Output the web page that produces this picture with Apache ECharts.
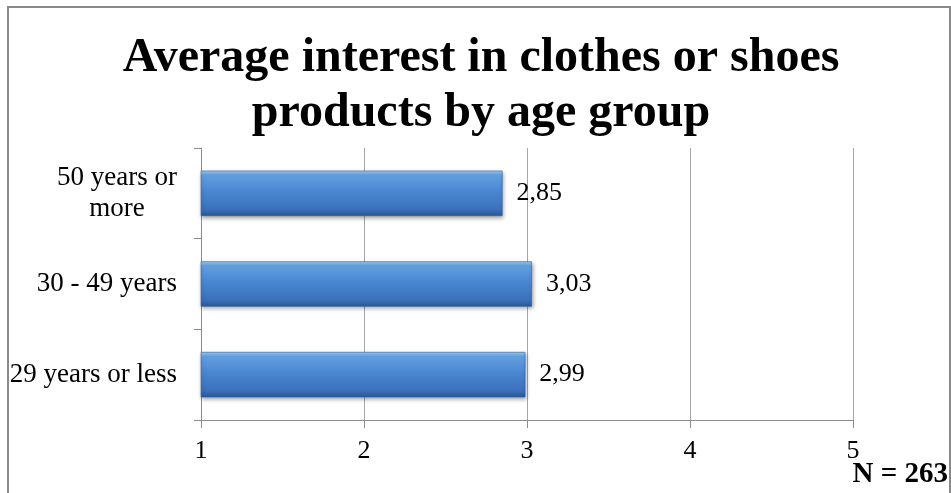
<!DOCTYPE html>
<html>
<head>
<meta charset="utf-8">
<title>Average interest in clothes or shoes products by age group</title>
<script src="https://cdn.jsdelivr.net/npm/echarts@6/dist/echarts.min.js"></script>
<style>
  html, body { margin: 0; padding: 0; background: #ffffff; }
  #chart { width: 951px; height: 493px; }
</style>
</head>
<body>
<div id="chart"></div>
<script>
// Age groups, bottom to top
const categories = ['29 years or less', '30 - 49 years', '50 years or more'];
// Mean interest score per age group
const values = [2.99, 3.03, 2.85];
// Scale ticks
const axisMin = 1;
const axisMax = 5;
const axisStep = 1;
const sampleNote = 'N = 263';

const serif = '"Liberation Serif", "Times New Roman", serif';

const chart = echarts.init(document.getElementById('chart'));

const barFill = new echarts.graphic.LinearGradient(0, 0, 0, 1, [
  { offset: 0, color: '#9ccdf3' },
  { offset: 0.1, color: '#62a0e2' },
  { offset: 0.45, color: '#4a87d2' },
  { offset: 0.85, color: '#3b71bb' },
  { offset: 1, color: '#2a5793' }
]);

chart.setOption({
  animation: false,
  backgroundColor: '#ffffff',
  title: {
    text: 'Average interest in clothes or shoes\nproducts by age group',
    left: 481,
    textAlign: 'center',
    top: 31,
    padding: 0,
    textStyle: {
      fontFamily: serif,
      fontWeight: 'bold',
      fontSize: 48,
      lineHeight: 55,
      color: '#000'
    }
  },
  grid: { left: 201, right: 98, top: 148, bottom: 73 },
  xAxis: {
    type: 'value',
    min: axisMin,
    max: axisMax,
    interval: axisStep,
    axisLine: { show: true, lineStyle: { color: '#8c8c8c', width: 1 } },
    axisTick: { show: true, length: 8, lineStyle: { color: '#8c8c8c' } },
    splitLine: { show: true, lineStyle: { color: '#a6a6a6', width: 1 } },
    axisLabel: {
      fontFamily: serif,
      fontSize: 26,
      color: '#000',
      margin: 18
    }
  },
  yAxis: {
    type: 'category',
    data: categories,
    axisLine: { show: true, lineStyle: { color: '#8c8c8c', width: 1 } },
    axisTick: { show: true, length: 7, lineStyle: { color: '#8c8c8c' } },
    axisLabel: {
      margin: 24,
      align: 'right',
      formatter: function (v) {
        if (v === '50 years or more') return '{w|50 years or}\n{c|more}';
        return '{w|' + v + '}';
      },
      rich: {
        w: { fontFamily: serif, fontSize: 27, color: '#000', lineHeight: 31 },
        c: { fontFamily: serif, fontSize: 27, color: '#000', lineHeight: 31, align: 'center' }
      }
    }
  },
  series: [{
    type: 'bar',
    data: values,
    barWidth: '50%',
    itemStyle: {
      color: barFill,
      borderColor: '#2f5f9e',
      borderWidth: 0.6,
      shadowColor: 'rgba(0,0,0,0.35)',
      shadowBlur: 4,
      shadowOffsetX: 1,
      shadowOffsetY: 2
    },
    label: {
      show: true,
      position: 'right',
      distance: 14,
      fontFamily: serif,
      fontSize: 26,
      color: '#000',
      formatter: function (p) { return p.value.toFixed(2).replace('.', ','); }
    }
  }],
  graphic: [
    {
      type: 'rect',
      silent: true,
      shape: { x: 8, y: 7, width: 942, height: 500 },
      style: { fill: null, stroke: '#8a8a8a', lineWidth: 2 }
    },
    {
      type: 'text',
      right: 3,
      top: 460,
      style: {
        text: sampleNote,
        fontFamily: serif,
        fontWeight: 'bold',
        fontSize: 29,
        fill: '#000'
      }
    }
  ]
});
</script>
</body>
</html>
